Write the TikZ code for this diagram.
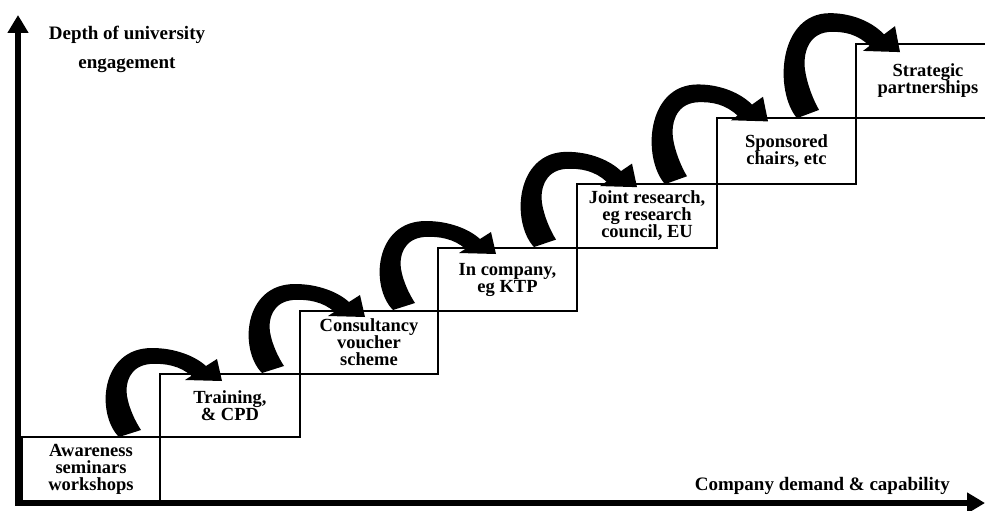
\documentclass[tikz,border=0pt]{standalone}
\usepackage{fontspec}
\setmainfont{Liberation Serif}
\usetikzlibrary{arrows.meta}
\begin{document}
\begin{tikzpicture}[x=1pt,y=-1pt,
  stepbox/.style={draw=black, line width=1.8pt, inner sep=0pt, align=center,
    font=\fontsize{18.5}{17}\selectfont\bfseries},
  axisline/.style={line width=5.5pt, -{Triangle[length=18pt,width=20pt]}},
  axislabel/.style={font=\fontsize{19}{29}\selectfont\bfseries, align=center, inner sep=0pt},
  curvearrow/.pic={
    \fill (-11,1) .. controls (-34,-22) and (-30,-88) .. (22,-88)
      .. controls (45,-88) and (65,-80) .. (76,-70)
      -- (87,-77) -- (92,-55) -- (55,-56) -- (61.5,-60.2)
      .. controls (50,-70) and (36,-73) .. (20,-72)
      .. controls (-1,-70) and (-5,-52) .. (-3,-40)
      .. controls (-1,-28) and (5,-15) .. (11,-6) -- cycle;
  }]
\clip (0,0) rectangle (985,511);

% steps
\node[stepbox, minimum width=138pt, minimum height=65pt] (s1) at (91,469.5)
  {Awareness\\seminars\\workshops};
\node[stepbox, minimum width=140pt, minimum height=63pt] (s2) at (230,405.5)
  {\fontsize{18.5}{20}\selectfont Training,\\\& CPD};
\node[stepbox, minimum width=138pt, minimum height=63pt] (s3) at (369,342.5)
  {Consultancy\\voucher\\scheme};
\node[stepbox, minimum width=139pt, minimum height=63pt] (s4) at (507.5,279.5)
  {\fontsize{18.5}{20}\selectfont In company,\\eg KTP};
\node[stepbox, minimum width=140pt, minimum height=64pt] (s5) at (647,216)
  {Joint research,\\eg research\\council, EU};
\node[stepbox, minimum width=139pt, minimum height=66pt] (s6) at (786.5,151)
  {\fontsize{18.5}{23}\selectfont Sponsored\\chairs, etc};
\node[stepbox, minimum width=144pt, minimum height=74pt] (s7) at (928,81)
  {\fontsize{18.5}{25}\selectfont Strategic\\partnerships};

% curved arrows
\pic at (130,436) {curvearrow};
\pic at (273,372) {curvearrow};
\pic at (404,309) {curvearrow};
\pic[yscale=1.07] at (545,246) {curvearrow};
\pic[yscale=1.12] at (676,183) {curvearrow};
\pic[yscale=1.18] at (808,117) {curvearrow};

% axes
\coordinate (o) at (18,503);
\coordinate (ytip) at (18,15);
\coordinate (xtip) at (985,503);
\draw[axisline] ([yshift=2.75pt]o) -- (ytip);
\draw[axisline] ([xshift=-2.75pt]o) -- (xtip);

\node[axislabel] (ylab) at (127,49) {Depth of university\\engagement};
\node[axislabel, anchor=base east] (xlab) at (950,490) {Company demand \& capability};
\end{tikzpicture}
\end{document}
